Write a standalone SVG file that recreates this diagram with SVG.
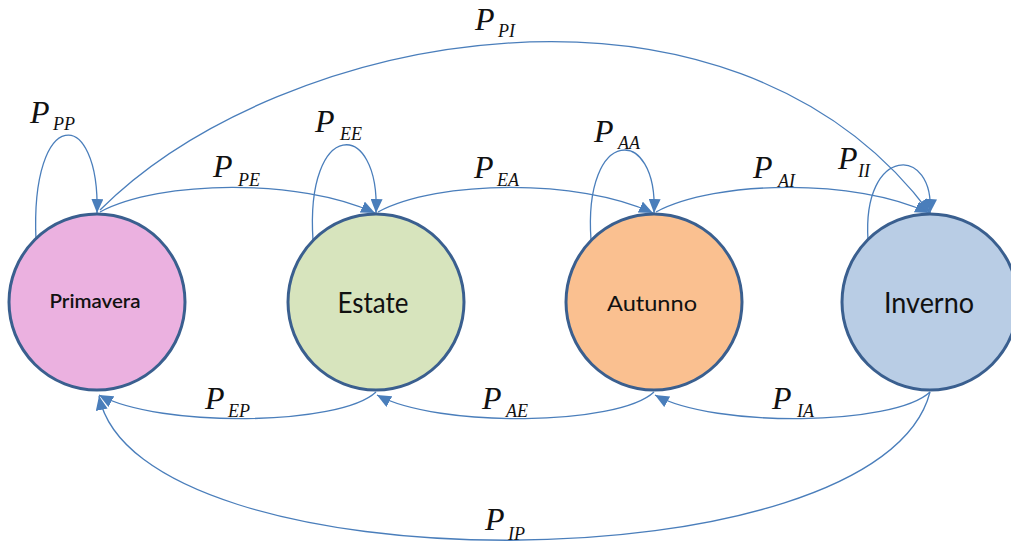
<svg xmlns="http://www.w3.org/2000/svg" width="1011" height="545" viewBox="0 0 1011 545">
<style>
.edge{fill:none;stroke:#4a7ebb;stroke-width:1.3}
.node{stroke:#3a5f8f;stroke-width:3}
.name{font-family:Lato,"Open Sans",sans-serif;fill:#111;text-anchor:middle}
.P{font-family:"Liberation Serif","Times New Roman",serif;font-style:italic;font-size:32px;fill:#111}
.s{font-family:"Liberation Serif","Times New Roman",serif;font-style:italic;font-size:18px;fill:#111}
</style>
<defs>
<marker id="ah" markerUnits="userSpaceOnUse" markerWidth="15" markerHeight="12" refX="14" refY="6" orient="auto">
<path d="M0,0 L14,6 L0,12 z" fill="#4a7ebb"/>
</marker>
</defs>
<rect width="1011" height="545" fill="#fff"/>
<g id="connectors">
<path class="edge" marker-end="url(#ah)" d="M36,240 C30,105 100,105 97,213"/>
<path class="edge" marker-end="url(#ah)" d="M313,240 C305,118 380,118 376,213"/>
<path class="edge" marker-end="url(#ah)" d="M591,240 C583,125 658,125 654,213"/>
<path class="edge" marker-end="url(#ah)" d="M868,240 C862,145 935,145 930,213"/>
<path class="edge" marker-end="url(#ah)" d="M100,212 C160,180 300,178 375,213"/>
<path class="edge" marker-end="url(#ah)" d="M378,212 C438,180 578,178 653,213"/>
<path class="edge" marker-end="url(#ah)" d="M656,212 C716,180 856,178 929,213"/>
<path class="edge" marker-end="url(#ah)" d="M100,210 C280,30 729,-56 930,213"/>
<path class="edge" marker-end="url(#ah)" d="M376,392 C340,426 160,428 99,395"/>
<path class="edge" marker-end="url(#ah)" d="M654,392 C618,426 438,428 377,395"/>
<path class="edge" marker-end="url(#ah)" d="M930,392 C894,426 714,428 655,395"/>
<path class="edge" marker-end="url(#ah)" d="M930,392 C880,589 137,589 99,396"/>
</g>
<g id="n-primavera">
<circle class="node" cx="97" cy="302" r="88" fill="#ebb1e0"/>
<text class="name" x="95" y="308" font-size="20" font-weight="600" textLength="91" lengthAdjust="spacingAndGlyphs">Primavera</text>
</g>
<g id="n-estate">
<circle class="node" cx="376" cy="302" r="88" fill="#d7e4bd"/>
<text class="name" x="373" y="313" font-size="28" textLength="71" lengthAdjust="spacingAndGlyphs">Estate</text>
</g>
<g id="n-autunno">
<circle class="node" cx="654" cy="302" r="88" fill="#fac090"/>
<text class="name" x="652" y="311" font-size="22" textLength="90" lengthAdjust="spacingAndGlyphs">Autunno</text>
</g>
<g id="n-inverno">
<circle class="node" cx="930" cy="302" r="88" fill="#b9cde5"/>
<text class="name" x="929" y="313" font-size="28" textLength="90" lengthAdjust="spacingAndGlyphs">Inverno</text>
</g>
<g id="labels">
<text class="P" x="30" y="123">P</text><text class="s" x="53" y="130">PP</text>
<text class="P" x="315" y="132">P</text><text class="s" x="340" y="140">EE</text>
<text class="P" x="213" y="177">P</text><text class="s" x="238" y="186">PE</text>
<text class="P" x="474" y="178">P</text><text class="s" x="497" y="186">EA</text>
<text class="P" x="594" y="142">P</text><text class="s" x="618" y="149">AA</text>
<text class="P" x="753" y="178">P</text><text class="s" x="778" y="187">AI</text>
<text class="P" x="838" y="169">P</text><text class="s" x="858" y="177">II</text>
<text class="P" x="475" y="30">P</text><text class="s" x="498" y="37">PI</text>
<text class="P" x="205" y="409">P</text><text class="s" x="228" y="417">EP</text>
<text class="P" x="482" y="409">P</text><text class="s" x="506" y="417">AE</text>
<text class="P" x="772" y="409">P</text><text class="s" x="797" y="417">IA</text>
<text class="P" x="485" y="530">P</text><text class="s" x="508" y="540">IP</text>
</g>
</svg>
